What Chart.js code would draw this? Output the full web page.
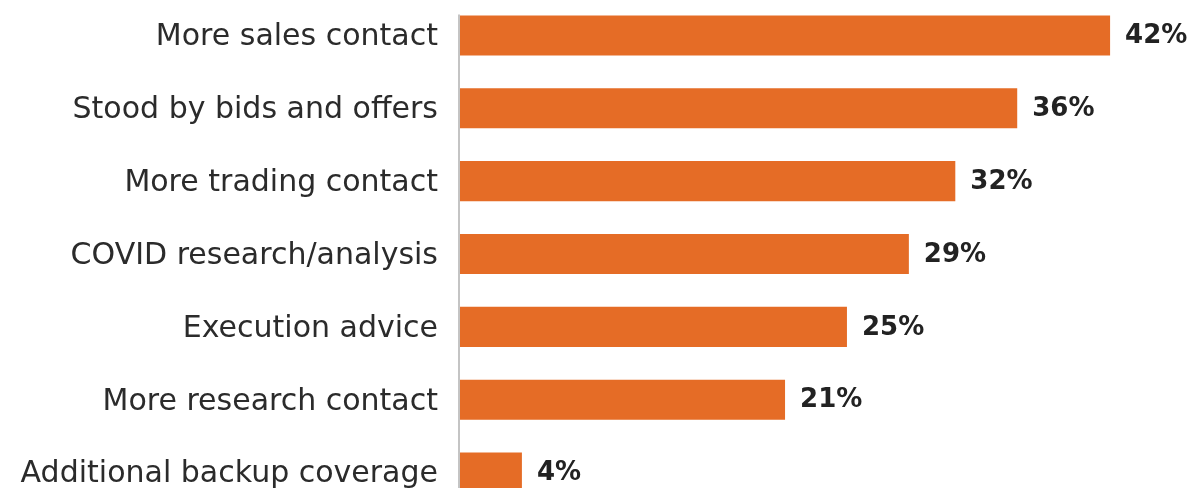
<!DOCTYPE html>
<html>
<head>
<meta charset="utf-8">
<script src="https://cdn.jsdelivr.net/npm/chart.js@4.4.1/dist/chart.umd.min.js"></script>
<style>
  html, body { margin: 0; padding: 0; background: #fff; }
  #wrap { position: relative; width: 1192px; height: 488px; overflow: hidden; }
  #chart { position: absolute; left: 0; top: -41px; }
</style>
</head>
<body>
<div id="wrap"><canvas id="chart" width="1192" height="590"></canvas></div>
<script>
// 項目とデータ
var categories = ['More sales contact', 'Stood by bids and offers', 'More trading contact',
  'COVID research/analysis', 'Execution advice', 'More research contact', 'Additional backup coverage'];
var values = [42, 36, 32, 29, 25, 21, 4];

var FONT = '"DejaVu Sans", sans-serif';

// バーの右に%を描く
var valueLabels = {
  id: 'valueLabels',
  afterDatasetsDraw: function (chart) {
    var ctx = chart.ctx;
    var meta = chart.getDatasetMeta(0);
    ctx.save();
    ctx.fillStyle = '#222';
    ctx.font = 'bold 26px ' + FONT;
    ctx.textAlign = 'left';
    ctx.textBaseline = 'middle';
    meta.data.forEach(function (bar, i) {
      ctx.fillText(values[i] + '%', bar.x + 15, bar.y + 1);
    });
    ctx.restore();
  }
};

// 縦の軸線(最初のバーの上から)
var axisLine = {
  id: 'axisLine',
  beforeDatasetsDraw: function (chart) {
    var ctx = chart.ctx;
    var x = chart.scales.x.getPixelForValue(0);
    var first = chart.getDatasetMeta(0).data[0];
    ctx.save();
    ctx.strokeStyle = '#c4c4c4';
    ctx.lineWidth = 2;
    ctx.beginPath();
    ctx.moveTo(x - 1, first.y - first.height / 2 - 1);
    ctx.lineTo(x - 1, chart.chartArea.bottom);
    ctx.stroke();
    ctx.restore();
  }
};

new Chart(document.getElementById('chart'), {
  type: 'bar',
  data: {
    labels: categories,
    datasets: [{
      data: values,
      backgroundColor: '#E56C26',
      barPercentage: 0.55,
      categoryPercentage: 1
    }]
  },
  options: {
    indexAxis: 'y',
    responsive: false,
    animation: false,
    layout: { padding: { top: 10, bottom: 9, left: 0, right: 20 } },
    plugins: { legend: { display: false }, tooltip: { enabled: false } },
    scales: {
      x: { display: false, min: 0, max: 46 },
      y: {
        grid: { display: false, drawTicks: false },
        border: { display: false },
        afterFit: function (scale) { scale.width = 460; },
        ticks: {
          color: '#2b2b2b',
          padding: 22,
          labelOffset: 2,
          font: { family: FONT, size: 30 }
        }
      }
    }
  },
  plugins: [valueLabels, axisLine]
});
</script>
</body>
</html>
